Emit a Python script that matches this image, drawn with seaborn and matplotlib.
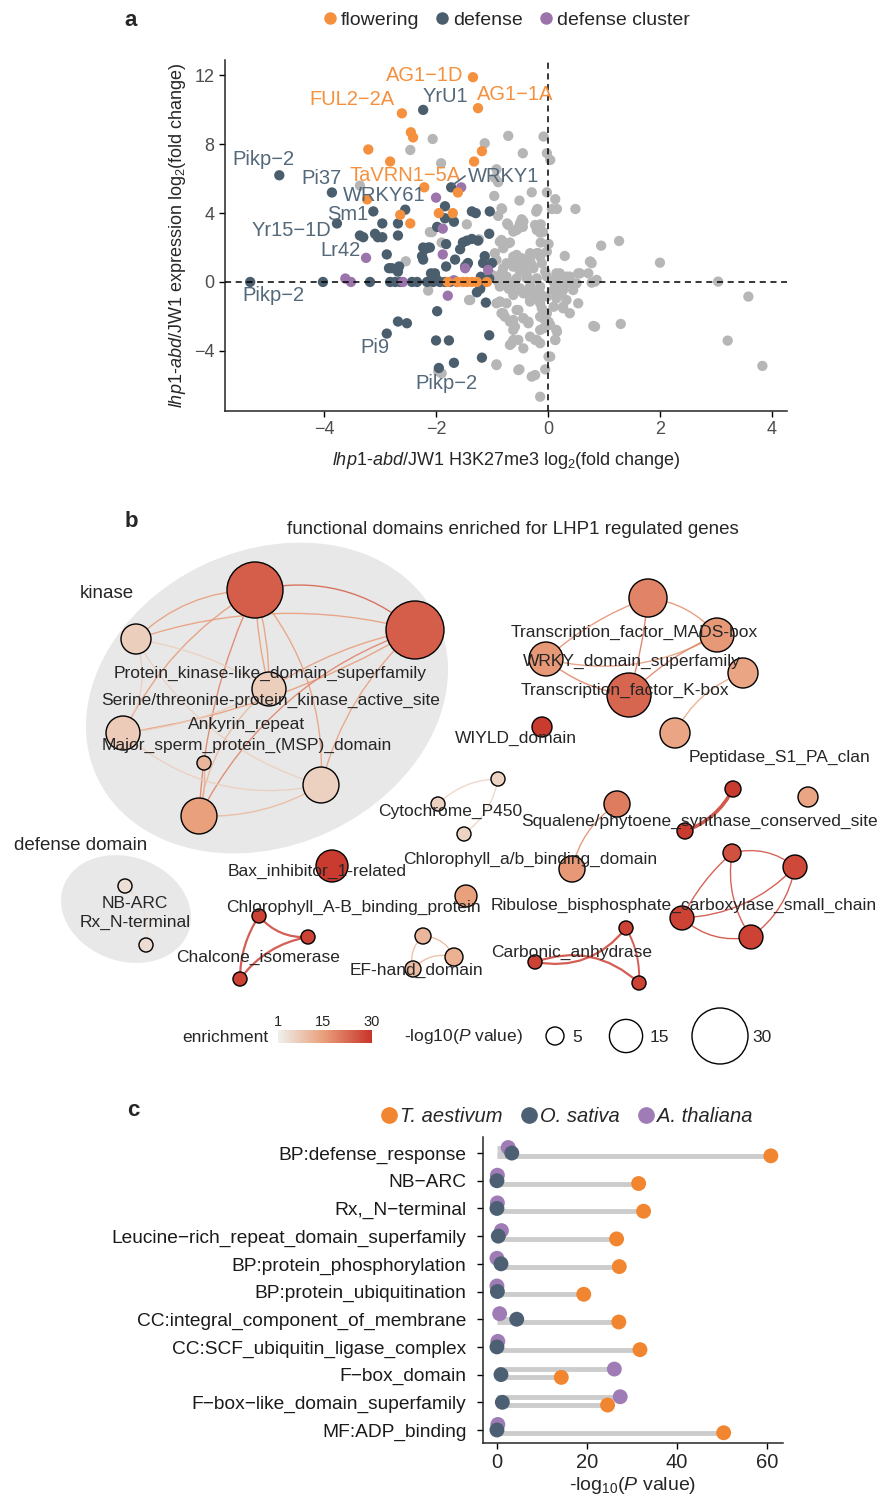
import pandas as pd
import matplotlib.pyplot as plt
import seaborn as sns
from matplotlib import font_manager
from matplotlib.patches import Circle, Ellipse, FancyArrowPatch
from matplotlib.colors import LinearSegmentedColormap, Normalize
from matplotlib.cm import ScalarMappable
from matplotlib.lines import Line2D

# ---------------- panel a data: log2FC of H3K27me3 (x) vs expression (y)
flowering_x = [-1.34, -2.61, -1.25, -2.45, -2.41, -3.21, -2.82, -1.18, -1.32, -2.21, -1.61, -3.23,
               -2.64, -2.46, -1.95, -1.70, -1.79, -1.45, -1.27, -1.09, -1.52, -1.62, -1.36]
flowering_y = [11.9, 9.8, 10.1, 8.7, 8.4, 7.7, 7.0, 7.6, 7.0, 5.5, 5.2, 4.8,
               3.9, 3.4, 4.0, 4.0, 0.0, 0.0, 0.0, 0.0, 0.0, 0.0, 0.0]

defense_x = [-4.80, -2.23, -3.86, -1.73, -3.12, -2.55, -3.77, -1.84, -1.36, -1.29, -1.04, -2.96,
             -2.68, -1.98, -1.68, -1.84, -3.36, -3.30, -3.09, -3.04, -2.96, -2.68, -1.45, -1.52,
             -1.36, -1.25, -1.05, -2.14, -1.82, -2.23, -2.11, -2.20, -1.57, -2.88, -2.25, -2.23,
             -1.66, -1.45, -1.43, -1.48, -1.13, -1.16, -1.00, -2.79, -2.68, -2.09, -2.02, -1.82,
             -2.84, -2.66,
             -5.32, -4.02, -3.18, -2.82, -2.73, -2.64, -2.43, -2.34, -2.16, -2.05, -1.93, -1.84,
             -1.75, -1.63, -1.23, -1.13, -1.05, -1.20, -2.00,
             -1.27, -1.21, -1.11, -1.98, -2.68, -2.52, -2.88, -2.00, -1.77, -1.05, -1.68, -1.18,
             -1.95]
defense_y = [6.2, 10.0, 5.2, 5.5, 4.1, 4.2, 3.4, 4.4, 4.1, 4.0, 4.1, 3.4,
             3.4, 3.2, 3.5, 3.7, 2.7, 2.6, 2.8, 2.6, 2.6, 2.7, 2.4, 2.3,
             2.5, 2.4, 2.8, 2.0, 2.2, 2.0, 2.0, 1.9, 1.9, 1.6, 1.5, 1.3,
             1.3, 1.0, 1.1, 0.9, 1.5, 1.1, 1.1, 0.8, 0.6, 0.5, 0.5, 0.9,
             0.8, 0.9,
             0.0, 0.0, 0.0, 0.0, 0.0, 0.0, 0.0, 0.0, 0.0, 0.0, 0.0, 0.0,
             0.0, 0.0, 0.0, 0.0, 0.2, 0.3, 0.2,
             -0.6, -0.4, -1.2, -1.7, -2.3, -2.4, -3.0, -3.4, -3.4, -3.1, -4.7, -4.4,
             -5.0]

cluster_x = [-1.55, -2.00, -1.88, -3.25, -1.88, -3.62, -3.52, -2.59, -1.79, -1.07, -1.48, -1.68]
cluster_y = [5.5, 4.9, 3.1, 1.4, 1.6, 0.2, 0.0, 0.0, -0.8, 0.7, 0.8, 0.1]

other_x = [-0.71, -0.08, -1.13, -0.45, -0.02, 0.04, -0.96, -0.29, -0.02, 0.13, -0.51, -0.82,
           -0.19, -0.21, 0.07, 0.16, 0.49, -0.89, -0.47, -0.44, -0.62, -0.53, -0.23, -0.13,
           -0.14, -0.71, -0.83, -0.68, -0.13, 0.01, -0.02, 0.30, 0.95, 1.27, 2.00, 0.76,
           0.78, -0.95, -0.80, -0.62, -0.65, -0.56, -0.50, -0.32, -0.29, -0.20, -0.14, -0.38,
           -0.83, -0.77, 0.21, 0.39, 0.57, 0.72, 0.87, 0.16, 3.04, 3.58, 3.21, 3.83,
           -0.56, -0.44, -0.26, -0.14, -0.32, -0.53, -0.86, -0.80, -0.62, -0.44, -0.35, -0.62,
           -0.11, -0.08, -0.02, 0.01, 0.16, 0.24, 0.39, 0.27, 0.54, 0.16, 0.13, -0.14,
           -0.23, -0.65, -0.44, 0.01, -0.92, -0.51, -0.23, -0.05, -0.14, 0.84, 1.30, 0.81,
           0.84, 0.78, -2.06, -1.91, -0.92, -0.83, -1.45, -0.50, -0.56, -0.20, -1.90, -1.23,
           -2.46, -3.36, -0.95, -0.89, -2.11, -0.73, -0.54, -0.45, -0.09, -2.54, -2.14, -1.41,
           -1.96, -2.07, -1.39, -0.92, -1.90,
           -0.86, -0.71, -0.56, -0.47, -0.32, -0.17, 0.75, -0.92, -0.74, -0.80, -0.62, -0.50,
           -0.38, -0.26, -0.11, -0.05, 0.15, 0.33, 0.54, -0.92, -0.74, -0.56, -0.38, -0.20,
           -0.02, 0.15, 0.33, 0.51, -0.86, -0.68, -0.50, -0.32, -0.14, 0.10, 0.27, 0.45,
           -0.62, -0.38, -0.20, -0.02, 0.15, 0.33, -0.86, -0.74, -0.32, -0.14, 0.10, 0.27,
           -0.56, -0.92, -0.83, -0.77, -0.68, -0.59, -0.44, -0.35, -0.14, -0.05, 0.04, 0.15,
           -0.08, -0.62, -0.53, -0.32, -0.20, -0.14, 0.13, -0.68, 0.04, -0.53, -0.29,
           -0.90, -0.60, -0.30, 0.10, 0.40, -1.00, -0.70]
other_y = [8.49, 8.45, 8.06, 7.48, 7.48, 7.09, 5.00, 5.21, 5.21, 4.81, 4.73, 4.24,
           4.24, 4.09, 4.24, 4.24, 4.24, 3.84, 3.64, 3.51, 2.93, 3.12, 3.31, 3.35,
           2.87, 3.31, 2.44, 2.29, 2.29, 2.21, 1.76, 1.51, 2.11, 2.38, 1.12, 1.18,
           1.09, 1.67, 1.96, 1.47, 1.09, 1.28, 0.89, 1.28, 0.99, 1.67, 1.47, 0.41,
           0.50, -0.17, 0.50, 0.31, 0.50, 0.50, 0.12, 0.21, 0.02, -0.85, -3.41, -4.88,
           -0.47, -0.66, -0.56, -0.66, -1.05, -1.63, -1.15, -1.82, -2.21, -2.11, -2.31, -2.79,
           -1.53, -2.11, -1.82, -2.31, -0.27, -0.66, -1.82, -1.44, -1.24, -2.89, -3.37, -2.79,
           -3.37, -3.57, -3.86, -4.34, -4.79, -5.08, -5.41, -5.08, -6.67, -2.60, -2.44, -2.56,
           0.02, -0.04, 8.31, 6.90, 6.55, 4.28, 3.35, 3.41, 3.02, 3.02, 2.29, 2.48,
           7.67, 5.60, 6.05, 5.80, 2.90, 3.40, 3.10, 3.20, 2.90, 1.20, -0.50, -1.05,
           -5.20, 2.90, -1.05, -4.83, -5.31,
           2.34, 2.25, 1.57, 1.38, 1.67, 1.67, 1.18, 1.28, 1.09, 0.80, 0.89, 0.60,
           0.99, 0.80, 1.09, 0.60, 0.50, 0.31, 0.50, 0.31, 0.31, 0.21, 0.21, 0.21,
           0.31, -0.08, -0.08, -0.08, -0.27, -0.27, -0.37, -0.27, -0.27, -0.47, -0.47, -0.47,
           -0.76, -0.66, -0.95, -0.85, -0.95, -1.05, -1.14, -1.24, -1.14, -1.24, -1.44, -1.53,
           -1.63, -1.24, -1.82, -2.02, -2.31, -2.60, -2.11, -2.40, -2.02, -2.21, -2.50, -2.79,
           -2.69, -3.37, -3.37, -3.18, -3.37, -3.56, -3.37, -3.66, -4.34, -5.12, -5.50,
           0.05, 0.00, 0.05, 0.00, 0.05, 0.40, -0.40]

gene_labels = ["AG1\u22121D", "FUL2\u22122A", "YrU1", "AG1\u22121A", "Pikp\u22122", "Pi37",
               "TaVRN1\u22125A", "WRKY1", "WRKY61", "Sm1", "Yr15\u22121D", "Lr42", "Pikp\u22122",
               "Pi9", "Pikp\u22122"]
gene_label_group = ["flowering", "flowering", "defense", "flowering", "defense", "defense",
                    "flowering", "defense", "defense", "defense", "defense", "defense", "defense",
                    "defense", "defense"]
gene_label_x = [-2.2, -3.5, -1.84, -0.59, -5.09, -4.04, -2.55, -0.80, -2.93, -3.57, -4.59,
                -3.71, -4.91, -3.10, -1.82]
gene_label_y = [12.0, 10.6, 10.8, 10.9, 7.1, 6.0, 6.2, 6.1, 5.0, 3.9, 3.0, 1.8, -0.8, -3.8, -5.9]

# ---------------- panel b data: enriched functional domains network
node_ids = ["k1", "k2", "k3", "k4", "k5", "k6", "k7", "k8",
            "tA", "tB", "tC", "tD", "tE", "tF", "wiyld",
            "cy1", "cy2", "cy3", "sq", "chl", "ps1", "ps2", "solo",
            "ru1", "ru2", "ru3", "ru4", "ca1", "ca2", "ca3",
            "bax", "cab", "ch1", "ch2", "ch3", "ef1", "ef2", "ef3", "nb", "rx"]
node_enrichment = [24, 24, 7, 7, 7.5, 11, 6.5, 15,
                   19, 16, 16, 23, 14, 14, 29,
                   6, 6.5, 6, 20, 16, 29, 29, 14,
                   26, 27, 28, 28, 28, 28, 28,
                   29, 15, 28, 28, 28, 11, 12, 10, 4, 4.5]
node_logp = [30, 31.3, 12.9, 15.5, 15.5, 2.4, 16.8, 16.8,
             18.2, 15.5, 15.5, 22.1, 12.9, 12.9, 6.3,
             2.4, 2.4, 2.4, 10.3, 10.3, 3.7, 3.7, 6.3,
             5.0, 8.9, 8.9, 8.9, 2.4, 2.4, 2.4,
             14.2, 7.6, 2.4, 2.4, 2.4, 3.7, 5.0, 3.7, 2.4, 2.4]
edge_pairs = [("k1", "k2"), ("k1", "k3"), ("k1", "k4"), ("k1", "k5"), ("k1", "k7"), ("k1", "k8"),
              ("k2", "k3"), ("k2", "k4"), ("k2", "k5"), ("k2", "k7"), ("k2", "k8"),
              ("k3", "k4"), ("k3", "k7"), ("k3", "k5"), ("k4", "k8"), ("k5", "k7"),
              ("k5", "k4"), ("k6", "k8"), ("k7", "k8"), ("k1", "k4"),
              ("tA", "tC"), ("tA", "tD"), ("tA", "tB"), ("tB", "tC"), ("tB", "tD"), ("tC", "tD"),
              ("tE", "tF"), ("cy1", "cy2"), ("cy1", "cy3"), ("sq", "chl"), ("ps1", "ps2"),
              ("ru1", "ru2"), ("ru1", "ru3"), ("ru1", "ru4"), ("ru2", "ru3"), ("ru2", "ru4"),
              ("ru3", "ru4"), ("ca1", "ca2"), ("ca2", "ca3"), ("ca1", "ca3"),
              ("ch1", "ch2"), ("ch2", "ch3"), ("ch1", "ch3"),
              ("ef1", "ef2"), ("ef1", "ef3"), ("ef3", "ef2"), ("nb", "rx")]
domain_labels = ["Protein_kinase-like_domain_superfamily",
                 "Serine/threonine-protein_kinase_active_site", "Ankyrin_repeat",
                 "Major_sperm_protein_(MSP)_domain", "Transcription_factor_MADS-box",
                 "WRKY_domain_superfamily", "Transcription_factor_K-box", "WIYLD_domain",
                 "Peptidase_S1_PA_clan", "Cytochrome_P450",
                 "Squalene/phytoene_synthase_conserved_site", "Chlorophyll_a/b_binding_domain",
                 "Bax_inhibitor_1-related", "Chlorophyll_A-B_binding_protein",
                 "Ribulose_bisphosphate_carboxylase_small_chain", "Chalcone_isomerase",
                 "EF-hand_domain", "Carbonic_anhydrase", "NB-ARC", "Rx_N-terminal"]
size_legend_values = [5, 15, 30]

# ---------------- panel c data: -log10(P) per term and species
terms = ["BP:defense_response", "NB\u2212ARC", "Rx,_N\u2212terminal",
         "Leucine\u2212rich_repeat_domain_superfamily", "BP:protein_phosphorylation",
         "BP:protein_ubiquitination", "CC:integral_component_of_membrane",
         "CC:SCF_ubiquitin_ligase_complex", "F\u2212box_domain",
         "F\u2212box\u2212like_domain_superfamily", "MF:ADP_binding"]
t_aestivum = [60.9, 31.5, 32.6, 26.6, 27.2, 19.3, 27.1, 31.8, 14.3, 24.6, 50.4]
o_sativa = [3.3, 0.0, 0.0, 0.3, 0.9, 0.1, 4.4, 0.0, 0.9, 1.2, 0.0]
a_thaliana = [2.5, 0.1, 0.1, 1.0, 0.0, 0.0, 0.6, 0.2, 26.1, 27.4, 0.2]

# ---------------- style
ORANGE = "#F5913E"
SLATE = "#4A5E6E"
PURPLE = "#9C74AC"
GREY = "#B6B6B6"
LABEL_SLATE = "#536879"
C_ORANGE = "#F2852F"
C_SLATE = "#4D6073"
C_PURPLE = "#9F7CB6"

sns.set_theme(style="ticks")
plt.rcParams["font.family"] = ["Liberation Sans", "DejaVu Sans"]
plt.rcParams["mathtext.fontset"] = "custom"
plt.rcParams["mathtext.rm"] = "Liberation Sans"
plt.rcParams["mathtext.it"] = "Liberation Sans:italic"
plt.rcParams["axes.linewidth"] = 1.1

# panel c of the original uses a condensed face; fall back to a smaller regular face
installed = {f.name for f in font_manager.fontManager.ttflist}
if "Liberation Sans Narrow" in installed:
    NARROW, C_SIZE = "Liberation Sans Narrow", 16
else:
    NARROW, C_SIZE = "Liberation Sans", 13.8

W, H = 877, 1498
fig = plt.figure(figsize=(W / 100, H / 100), dpi=100)


def px_axes(x0, y0, x1, y1):
    return fig.add_axes([x0 / W, 1 - y1 / H, (x1 - x0) / W, (y1 - y0) / H])


# ================= panel a
ax_a = px_axes(225, 60, 787, 411)
df_a = pd.concat([
    pd.DataFrame({"x": other_x, "y": other_y, "group": "other"}),
    pd.DataFrame({"x": defense_x, "y": defense_y, "group": "defense"}),
    pd.DataFrame({"x": cluster_x, "y": cluster_y, "group": "defense cluster"}),
    pd.DataFrame({"x": flowering_x, "y": flowering_y, "group": "flowering"}),
], ignore_index=True)
palette_a = {"other": GREY, "defense": SLATE, "defense cluster": PURPLE, "flowering": ORANGE}
sns.scatterplot(data=df_a, x="x", y="y", hue="group", palette=palette_a, s=55,
                linewidth=0, legend=False, ax=ax_a, zorder=2)
ax_a.axhline(0, color="black", lw=1.1, ls=(0, (4, 3)), zorder=3)
ax_a.axvline(0, color="black", lw=1.1, ls=(0, (4, 3)), zorder=3)
ax_a.set_xlim(-5.77, 4.27)
ax_a.set_ylim(-7.5, 12.9)
ax_a.set_xticks([-4, -2, 0, 2, 4])
ax_a.set_yticks([-4, 0, 4, 8, 12])
ax_a.tick_params(length=4, width=1, labelsize=13, labelcolor="#4D4D4D", color="black")
sns.despine(ax=ax_a)
ax_a.set_xlabel("")
ax_a.set_ylabel("")
ax_a.text(0.5, -0.14, r"$\mathit{lhp1}$-$\mathit{abd}$/JW1 H3K27me3 log$_2$(fold change)",
          transform=ax_a.transAxes, ha="center", va="center", fontsize=13)
ax_a.text(-0.084, 0.5, r"$\mathit{lhp1}$-$\mathit{abd}$/JW1 expression log$_2$(fold change)",
          transform=ax_a.transAxes, ha="center", va="center", rotation=90, fontsize=13)

for txt, grp, lx, ly in zip(gene_labels, gene_label_group, gene_label_x, gene_label_y):
    ax_a.text(lx, ly, txt, ha="center", va="center", fontsize=14.5, zorder=4,
              color=ORANGE if grp == "flowering" else LABEL_SLATE)
ax_a.plot([-1.70, -1.48], [5.64, 6.16], color=LABEL_SLATE, lw=1.2, zorder=4)

handles_a = [Line2D([], [], marker="o", ls="", color=c, markersize=8)
             for c in (ORANGE, SLATE, PURPLE)]
fig.legend(handles_a, ["flowering", "defense", "defense cluster"], loc="center",
           bbox_to_anchor=(505 / W, 1 - 20 / H), ncol=3, frameon=False, fontsize=14,
           handletextpad=0.05, columnspacing=0.7, handlelength=1.0, borderpad=0)

# ================= panel b
ax_b = px_axes(0, 500, 877, 1070)
ax_b.set_xlim(0, 877)
ax_b.set_ylim(1070, 500)
ax_b.axis("off")

layout = {"k1": (255, 590), "k2": (415, 630), "k3": (136, 639), "k4": (269, 689),
          "k5": (123, 733), "k6": (204, 763), "k7": (321, 785), "k8": (199, 816),
          "tA": (648, 598), "tB": (717, 635), "tC": (546, 659), "tD": (629, 695),
          "tE": (743, 673), "tF": (675, 733), "wiyld": (542, 727),
          "cy1": (498, 779), "cy2": (438, 804), "cy3": (464, 834),
          "sq": (617, 804), "chl": (572, 869), "ps1": (733, 789), "ps2": (685, 831),
          "solo": (808, 797), "ru1": (732, 853), "ru2": (795, 867), "ru3": (682, 918),
          "ru4": (751, 937), "ca1": (626, 928), "ca2": (535, 962), "ca3": (639, 983),
          "bax": (332, 866), "cab": (466, 896), "ch1": (259, 916), "ch2": (308, 937),
          "ch3": (240, 979), "ef1": (423, 936), "ef2": (454, 957), "ef3": (413, 969),
          "nb": (125, 886), "rx": (146, 945)}
edge_rad = [-0.25, 0.2, 0.05, 0.15, -0.2, 0.1,
            0.15, 0.1, -0.1, 0.15, 0.2,
            -0.1, 0.2, -0.25, 0.2, 0.25,
            0.1, -0.1, -0.15, -0.08,
            0.1, -0.05, -0.2, -0.2, 0.1, 0.15,
            0.2, 0.2, -0.2, 0.2, -0.2,
            -0.25, 0.1, 0.2, -0.2, -0.2,
            0.25, -0.3, -0.3, -0.15,
            0.25, 0.2, 0.15, -0.3, 0.3, -0.3, -0.3]
edge_lw = {("ps1", "ps2"): 2.6, ("ch1", "ch2"): 1.6, ("ch2", "ch3"): 1.6, ("ch1", "ch3"): 1.6,
           ("ca1", "ca2"): 1.6, ("ca2", "ca3"): 1.6, ("ca1", "ca3"): 1.4}

enr_cmap = LinearSegmentedColormap.from_list(
    "enr", [(0, "#EEF0EC"), (0.48, "#E9A07C"), (1, "#C8342A")])
enr_norm = Normalize(1, 30)
enrich = dict(zip(node_ids, node_enrichment))
logp = dict(zip(node_ids, node_logp))


def radius(p):
    return 5.2 + 0.76 * p


ax_b.add_patch(Ellipse((267, 698), 375, 295, angle=-25, color="#E8E8E8", lw=0, zorder=0))
ax_b.add_patch(Ellipse((126, 909), 133, 104, angle=20, color="#E8E8E8", lw=0, zorder=0))

for (a, b), rad in zip(edge_pairs, edge_rad):
    col = enr_cmap(enr_norm((enrich[a] + enrich[b]) / 2))
    ax_b.add_patch(FancyArrowPatch(layout[a], layout[b], arrowstyle="-",
                                   connectionstyle=f"arc3,rad={rad}", color=col, alpha=0.85,
                                   lw=edge_lw.get((a, b), 1.0), shrinkA=0, shrinkB=0, zorder=1))
for nid in node_ids:
    ax_b.add_patch(Circle(layout[nid], radius(logp[nid]), facecolor=enr_cmap(enr_norm(enrich[nid])),
                          edgecolor="black", lw=1, zorder=2))

label_pos = [(270, 673), (271, 700), (247, 724), (247, 745), (634, 632), (632, 661),
             (625, 690), (516, 738), (779, 757), (450, 811), (699, 821), (530, 859),
             (317, 871), (353, 907), (684, 905), (258, 957), (416, 970), (572, 952),
             (135, 904), (135, 922)]
for txt, (lx, ly) in zip(domain_labels, label_pos):
    ax_b.text(lx, ly, txt, ha="center", va="center", fontsize=12.5, zorder=3)
ax_b.text(107, 593, "kinase", ha="center", va="center", fontsize=13.5)
ax_b.text(81, 846, "defense domain", ha="center", va="center", fontsize=13.5)
ax_b.text(513, 530, "functional domains enriched for LHP1 regulated genes",
          ha="center", va="center", fontsize=13.5)

# legends of panel b
ax_b.text(268, 1037, "enrichment", ha="right", va="center", fontsize=12.5)
cax = px_axes(278, 1030, 372, 1043)
cb = fig.colorbar(ScalarMappable(norm=enr_norm, cmap=enr_cmap), cax=cax, orientation="horizontal")
cb.outline.set_visible(False)
cax.xaxis.set_ticks_position("top")
cb.set_ticks([1, 15, 30])
cax.tick_params(length=0, labelsize=10.5, pad=1)
ax_b.text(404, 1037, r"-log10($\mathit{P}$ value)", ha="left", va="center", fontsize=12.5)
for v, cx, tx in zip(size_legend_values, (555, 626, 720), (572, 650, 752)):
    ax_b.add_patch(Circle((cx, 1036), radius(v), facecolor="white", edgecolor="black", lw=1))
    ax_b.text(tx, 1037, str(v), ha="left", va="center", fontsize=12.5)

# ================= panel c
ax_c = px_axes(483, 1137, 783, 1443)
rows = list(range(len(terms)))
df_c = pd.concat([
    pd.DataFrame({"term": terms, "logp": a_thaliana, "row": [r - 0.2 for r in rows],
                  "species": "A. thaliana"}),
    pd.DataFrame({"term": terms, "logp": o_sativa, "row": rows, "species": "O. sativa"}),
    pd.DataFrame({"term": terms, "logp": t_aestivum, "row": [r + 0.1 for r in rows],
                  "species": "T. aestivum"}),
], ignore_index=True)
ax_c.hlines(df_c["row"], 0, df_c["logp"], color="#CCCCCC", lw=3.5, zorder=1)
palette_c = {"T. aestivum": C_ORANGE, "O. sativa": C_SLATE, "A. thaliana": C_PURPLE}
sns.scatterplot(data=df_c, x="logp", y="row", hue="species", palette=palette_c, s=115,
                linewidth=0, legend=False, ax=ax_c, zorder=2)
ax_c.set_xlim(-3.1, 63.6)
ax_c.set_ylim(10.47, -0.58)
ax_c.set_yticks(rows)
ax_c.set_yticklabels(terms, fontfamily=NARROW, fontsize=C_SIZE, color="#1A1A1A")
ax_c.set_xticks([0, 20, 40, 60])
for lab in ax_c.get_xticklabels():
    lab.set_fontfamily(NARROW)
ax_c.tick_params(axis="y", length=4, width=1, pad=8, color="black")
ax_c.tick_params(axis="x", length=4, width=1, pad=3, labelsize=14.5, color="black")
sns.despine(ax=ax_c)
ax_c.set_ylabel("")
ax_c.set_xlabel(r"-log$_{10}$($\mathit{P}$ value)", fontfamily=NARROW, fontsize=14, labelpad=2)

handles_c = [Line2D([], [], marker="o", ls="", color=c, markersize=11)
             for c in (C_ORANGE, C_SLATE, C_PURPLE)]
fig.legend(handles_c, ["T. aestivum", "O. sativa", "A. thaliana"], loc="center",
           bbox_to_anchor=(566 / W, 1 - 1117 / H), ncol=3, frameon=False,
           prop={"family": NARROW, "style": "italic", "size": 14.5},
           handletextpad=0.05, columnspacing=0.8, handlelength=1.0, borderpad=0)

# panel letters
for letter, lx, ly in (("a", 131, 20), ("b", 131, 522), ("c", 133, 1110)):
    fig.text(lx / W, 1 - ly / H, letter, fontsize=16, fontweight="bold", ha="center", va="center")

fig.savefig("out.png", dpi=100)
